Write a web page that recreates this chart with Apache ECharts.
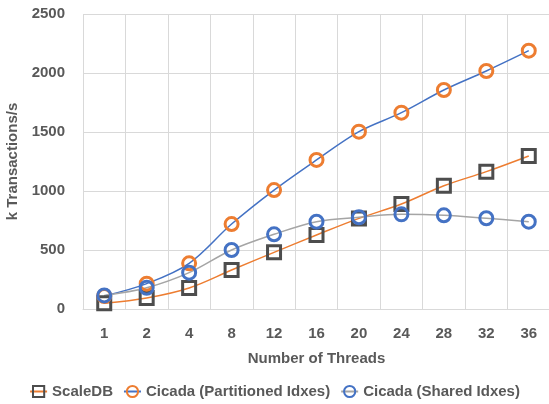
<!DOCTYPE html>
<html><head><meta charset="utf-8">
<script src="https://cdn.jsdelivr.net/npm/echarts@6/dist/echarts.min.js"></script>
<style>html,body{margin:0;padding:0;background:#fff}#c{width:549px;height:404px}</style>
</head><body><div id="c"></div>
<script>
var categories = ['1','2','4','8','12','16','20','24','28','32','36'];
var scaleDB = [48, 93, 178, 330, 480, 627, 768, 890, 1045, 1164, 1297];
var cicadaPartitioned = [110, 215, 387, 720, 1008, 1263, 1503, 1664, 1856, 2017, 2189];
var cicadaShared = [115, 180, 308, 500, 633, 740, 777, 802, 794, 769, 740];
var yTicks = {min: 0, max: 2500, interval: 500};

var FONT = 'Liberation Sans';
var TXT = '#595959';
var chart = echarts.init(document.getElementById('c'), null, {renderer: 'canvas'});
chart.setOption({
  animation: false,
  textStyle: {fontFamily: FONT},
  grid: {left: 83, top: 14, width: 467, height: 295, containLabel: false, outerBoundsMode: 'none'},
  legend: {
    bottom: 0, left: 'center', itemWidth: 17, itemHeight: 14, itemGap: 10,
    textStyle: {color: TXT, fontWeight: 'bold', fontSize: 15, fontFamily: FONT},
    data: ['ScaleDB', 'Cicada (Partitioned Idxes)', 'Cicada (Shared Idxes)']
  },
  xAxis: {
    type: 'category', data: categories, boundaryGap: true,
    name: 'Number of Threads', nameLocation: 'middle', nameGap: 42,
    nameTextStyle: {color: TXT, fontWeight: 'bold', fontSize: 15, fontFamily: FONT},
    axisLine: {lineStyle: {color: '#D9D9D9', width: 1}},
    axisTick: {show: false},
    axisLabel: {color: TXT, fontWeight: 'bold', fontSize: 15, margin: 17, fontFamily: FONT},
    splitLine: {show: true, lineStyle: {color: '#D9D9D9', width: 1}}
  },
  yAxis: {
    type: 'value', min: yTicks.min, max: yTicks.max, interval: yTicks.interval,
    name: 'k Transactions/s', nameLocation: 'middle', nameGap: 56,
    nameTextStyle: {color: TXT, fontWeight: 'bold', fontSize: 15, fontFamily: FONT},
    axisLine: {show: false}, axisTick: {show: false},
    axisLabel: {color: TXT, fontWeight: 'bold', fontSize: 15, margin: 18, fontFamily: FONT,
      formatter: function (v) { return String(v); }},
    splitLine: {lineStyle: {color: '#D9D9D9', width: 1}}
  },
  series: [
    {name: 'ScaleDB', type: 'line', data: scaleDB, smooth: 0.35,
     symbol: 'rect', symbolSize: 13,
     lineStyle: {color: '#ED7D31', width: 1.5},
     itemStyle: {color: 'rgba(255,255,255,0)', borderColor: '#4D4D4D', borderWidth: 3}},
    {name: 'Cicada (Partitioned Idxes)', type: 'line', data: cicadaPartitioned, smooth: 0.35,
     symbol: 'circle', symbolSize: 13,
     lineStyle: {color: '#4472C4', width: 1.5},
     itemStyle: {color: 'rgba(255,255,255,0)', borderColor: '#ED7D31', borderWidth: 3}},
    {name: 'Cicada (Shared Idxes)', type: 'line', data: cicadaShared, smooth: 0.35,
     symbol: 'circle', symbolSize: 13,
     lineStyle: {color: '#A5A5A5', width: 1.5},
     itemStyle: {color: 'rgba(255,255,255,0)', borderColor: '#4472C4', borderWidth: 3}}
  ]
});
</script></body></html>
